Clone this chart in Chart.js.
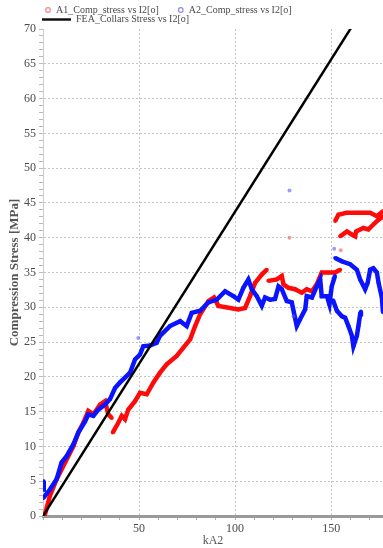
<!DOCTYPE html>
<html>
<head>
<meta charset="utf-8">
<title>Compression stress vs kA2</title>
<script src="https://cdn.jsdelivr.net/npm/chart.js@4.4.1/dist/chart.umd.min.js"></script>
<style>
    html, body { margin: 0; padding: 0; background: #fff; }
</style>
</head>
<body>
<canvas id="chartStress" width="383" height="548"></canvas>
<script>
// values, x in kA2, y in MPa; null = break in the trace
const a1X = [1, 3.6, 7.1, 11.5, 15.8, 18.4, 21, 23.6, 26.2, 29.7, 32.3, 34, 35.8, null,
    36.3, 39.2, 41, 42.7, 44.4, 47.9, 50.5, 54, 57.5, 60.9, 64.4, 69.6, 73.1, 76.6, 79.2, 81.8, 86.1, 89, 91.3, 97.4, 101.7, 105.2, 107.8, 110.4, 113.9, 116.5, null,
    117.3, 121.7, 124.3, 125.2, 127.8, 131.2, 134.7, 137.3, 140, 142.5, 145.1, 148.6, 152, 154.7, null,
    128.3, null, 155, null,
    152.1, 153.8, 158.2, 164, 170.3, 173.8, 177, null,
    154.7, 158.2, 160.5, 162.5, 163, 166.8, 169.4, 172, 174.7, 177];
const a1Y = [0.2, 2.9, 5.3, 7.7, 10, 12, 13.4, 15.1, 14.6, 16, 16.5, 14.6, 14.1, null,
    12, 13.4, 14.4, 13.9, 15.3, 16.5, 17.7, 17.5, 19.2, 20.6, 21.8, 23, 24.2, 25.4, 27.3, 29, 30.9, 31.4, 30.2, 29.9, 29.7, 29.9, 31.6, 33.5, 34.7, 35.4, null,
    33.8, 34, 34.5, 33.3, 32.8, 32.6, 32.1, 32.6, 32.3, 33.3, 35, 35, 35, 35.4, null,
    40, null, 38.2, null,
    42.4, 43.3, 43.6, 43.6, 43.6, 43.1, 43.8, null,
    40.2, 40.9, 40.5, 40.2, 40.9, 41.4, 41.2, 41.9, 42.6, 43];

const a2X = [0.2, 0.4, null,
    0.2, 3.6, 7.1, 9.7, 12.3, 15.8, 18.4, 21.9, 23.6, 26.2, 28.8, 32.3, 34.9, 37.5, 40.1, 42.7, 45.3, 47.9, 50.5, 52.2, 55.7, 59.2, 60.9, 66.1, 71.4, 74.8, 77.4, 81.8, 86.1, 90.5, 94.8, 99.1, 101.7, 104.3, 106.9, 108.7, 111.3, 113.9, 115.6, 118.2, 120.8, 122.6, 124.3, 126.9, 129.5, 132.1, 133.9, 136.5, 137.3, 140, 142.5, 144.3, 145.1, 147.8, 149.1, 150.3, 152, null,
    151, 153, 155.6, 157.3, 159, 160.8, 161.6, 163.4, 164.2, 165.1, 165.5, null,
    49.6, null, 128.3, null, 151.6, null, 130.4, null,
    152.1, 155.6, 159.9, 163.4, 165.1, 167.7, 169, 170.3, 172, 173.8, 174.7, 176.4, 177];
const a2Y = [3.8, 5, null,
    2.6, 3.8, 5.3, 7.7, 8.6, 10.3, 12, 13.6, 14.6, 14.4, 15.3, 16, 16.8, 18.4, 19.2, 19.9, 20.6, 22.5, 23.2, 24.4, 24.5, 24.9, 25.9, 27.3, 28, 27.3, 29.2, 29.5, 30.7, 31.1, 32.3, 31.6, 31.1, 32.8, 34, 32.6, 31.6, 30.2, 31.4, 31.1, 31.2, 33, 32.6, 30.9, 30.7, 27.3, 28.3, 29.7, 31.6, 31.4, 33, 34, 31.6, 31.6, 30.4, 33, 34.5, null,
    31, 29.5, 28.7, 28.5, 27.3, 25.9, 24.4, 25.9, 27.3, 29, 29.4, null,
    25.6, null, 46.8, null, 38.4, null, 28.7, null,
    37.1, 36.6, 36.2, 35.4, 34, 32.6, 33.5, 35.4, 35.6, 35, 33.5, 31.4, 29.3];

const feaX = [0, 180];
const feaY = [0, 78.75];

const seriesNames = ['A1_Comp_stress vs I2[o]', 'A2_Comp_stress vs I2[o]', 'FEA_Collars Stress vs I2[o]'];
const serif = '"Liberation Serif", "DejaVu Serif", serif';

function pairs(xs, ys) {
    return xs.map((x, i) => ({ x: x, y: ys[i] }));
}

// lone points (no neighbours) are drawn paler, like the stray samples
function lonePoint(ctx) {
    const d = ctx.dataset.data, i = ctx.dataIndex;
    const gap = j => j < 0 || j >= d.length || d[j].y === null;
    return gap(i - 1) && gap(i + 1);
}

// legend drawn by hand: two hollow circles on the first row, the FEA line below
const legendRows = {
    id: 'legendRows',
    afterDraw(chart) {
        const ctx = chart.ctx;
        const sets = chart.data.datasets;
        ctx.save();
        ctx.font = '10px ' + serif;
        ctx.textBaseline = 'middle';
        let cx = 48;
        [sets[0], sets[1]].forEach(ds => {
            ctx.beginPath();
            ctx.arc(cx, 10, 2.3, 0, Math.PI * 2);
            ctx.strokeStyle = ds.legendColor;
            ctx.lineWidth = 1.2;
            ctx.stroke();
            ctx.fillStyle = '#4a4a4a';
            ctx.fillText(ds.label, cx + 8, 10.5);
            cx += 8 + ctx.measureText(ds.label).width + 22;
        });
        ctx.beginPath();
        ctx.moveTo(42, 19.5);
        ctx.lineTo(71, 19.5);
        ctx.strokeStyle = '#111';
        ctx.lineWidth = 2.5;
        ctx.stroke();
        ctx.fillStyle = '#4a4a4a';
        ctx.fillText(sets[2].label, 76, 19.5);
        ctx.restore();
    }
};

const cvs = document.getElementById('chartStress').getContext('2d');
const chartStress = new Chart(cvs, {
    type: 'scatter',
    data: {
        datasets: [{
            label: seriesNames[0],
            data: pairs(a1X, a1Y),
            showLine: true,
            borderColor: '#ff0a0a',
            borderWidth: 4.5,
            pointRadius: 2,
            pointBorderWidth: 0,
            pointBackgroundColor: ctx => lonePoint(ctx) ? 'rgba(240,90,90,0.6)' : '#ff0a0a',
            legendColor: '#f08a8a',
            order: 2
        }, {
            label: seriesNames[1],
            data: pairs(a2X, a2Y),
            showLine: true,
            borderColor: '#0a14ff',
            borderWidth: 4.5,
            pointRadius: 2,
            pointBorderWidth: 0,
            pointBackgroundColor: ctx => lonePoint(ctx) ? 'rgba(90,90,245,0.6)' : '#0a14ff',
            legendColor: '#8a8af0',
            order: 1
        }, {
            label: seriesNames[2],
            data: pairs(feaX, feaY),
            showLine: true,
            borderColor: '#000',
            borderWidth: 2.5,
            pointRadius: 0,
            order: 0
        }]
    },
    plugins: [legendRows],
    options: {
        responsive: false,
        animation: false,
        // no auto padding, so the plot runs to the right edge like the original
        layout: { autoPadding: false, padding: { top: 29, right: 0, left: 0, bottom: 0 } },
        scales: {
            x: {
                type: 'linear',
                min: 0,
                max: 177,
                afterFit: scale => {
                    scale.height = 32;
                    scale.paddingLeft = 0;
                    scale.paddingRight = 0;
                },
                ticks: {
                    stepSize: 10,
                    includeBounds: false,
                    autoSkip: false,
                    maxRotation: 0,
                    padding: 2,
                    color: '#4a4a4a',
                    font: { family: serif, size: 12 },
                    callback: v => (v > 0 && v % 50 === 0) ? v : ''
                },
                grid: {
                    color: ctx => (ctx.tick && ctx.tick.value > 0 && ctx.tick.value % 50 === 0) ? '#c4c4c4' : 'rgba(0,0,0,0)',
                    tickColor: '#aaa',
                    tickLength: 4,
                    tickWidth: 1,
                    tickBorderDash: []
                },
                border: { color: '#9a9a9a', width: 3, dash: [2, 2] },
                title: {
                    display: true,
                    text: 'kA2',
                    color: '#555',
                    font: { family: serif, size: 12 },
                    padding: { top: 0, bottom: 0 }
                }
            },
            y: {
                min: 0,
                max: 70,
                afterFit: scale => { scale.width = 43; },
                ticks: {
                    stepSize: 1,
                    autoSkip: false,
                    padding: 3,
                    color: '#4a4a4a',
                    font: { family: serif, size: 12 },
                    callback: v => v % 5 === 0 ? v : ''
                },
                grid: {
                    color: ctx => (ctx.tick && ctx.tick.value > 0 && ctx.tick.value < 70 && ctx.tick.value % 5 === 0) ? '#c4c4c4' : 'rgba(0,0,0,0)',
                    tickColor: '#bbb',
                    tickLength: 4,
                    tickWidth: 1,
                    tickBorderDash: []
                },
                border: { color: '#ccc', width: 1, dash: [2, 2] },
                title: {
                    display: true,
                    text: 'Compression Stress [MPa]',
                    color: '#555',
                    font: { family: serif, size: 13, weight: 'bold' },
                    padding: { top: 7, bottom: 0 }
                }
            }
        },
        plugins: {
            legend: { display: false },
            tooltip: { enabled: false }
        }
    }
});
</script>
</body>
</html>
